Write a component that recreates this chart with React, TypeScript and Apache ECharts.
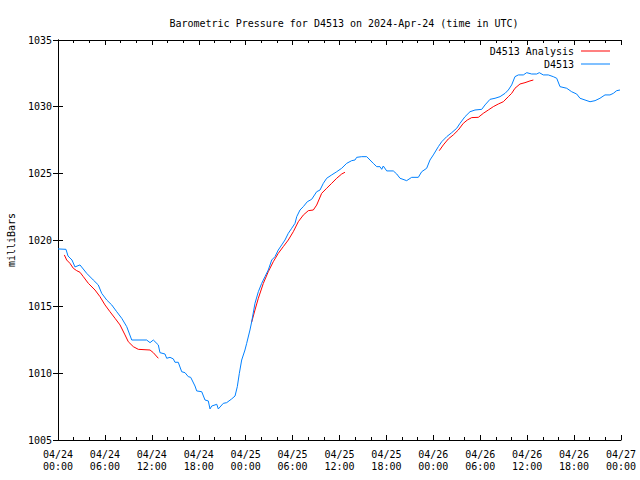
import React, { useEffect, useRef } from "react";
import * as echarts from "echarts";

const chartTitle = "Barometric Pressure for D4513 on 2024-Apr-24 (time in UTC)";
const yAxisTitle = "milliBars";
const seriesNames = ["D4513 Analysis", "D4513"];

// hours since 2024-04-24 00:00 UTC
const obsHours = [
  0, 1.02, 1.28, 1.79, 2.17, 2.81, 3.67, 4.51, 5.15, 5.59, 6.23, 6.87, 7.51, 8.15, 8.79, 9.43,
  11.34, 11.77, 12.19, 12.83, 13.04, 13.68, 13.9, 14.32, 14.75, 14.96, 15.38, 15.82, 16.24,
  16.66, 16.97, 17.52, 17.74, 18.38, 18.8, 19.22, 19.44, 19.66, 20.08, 20.3, 20.5, 21.14, 21.57,
  22.21, 22.64, 22.93, 23.19, 23.49, 23.91, 24.13, 24.55, 24.77, 25.19, 25.62, 26.05, 26.47,
  26.89, 27.33, 27.75, 28.17, 28.61, 29.03, 29.45, 29.89, 30.31, 30.53, 30.95, 31.37, 31.88,
  32.44, 33.08, 33.51, 33.93, 34.36, 35.0, 35.64, 36.28, 36.92, 37.56, 37.98, 38.2, 38.84,
  39.48, 39.9, 40.32, 40.76, 41.18, 41.4, 41.6, 42.04, 42.88, 43.32, 43.74, 44.59, 45.23, 46.08,
  46.51, 47.15, 47.57, 48.0, 48.64, 49.07, 49.71, 50.35, 50.99, 51.41, 52.05, 52.69, 53.33,
  54.19, 54.61, 55.25, 55.89, 56.53, 57.17, 57.59, 58.02, 58.44, 58.87, 59.51, 59.94, 60.58,
  61.22, 61.55, 62.06, 62.7, 63.34, 63.78, 64.2, 65.06, 65.69, 66.33, 66.76, 67.4, 68.04, 68.68,
  69.31, 69.95, 70.59, 71.02, 71.45, 71.87,
];
const obsPressure = [
  1019.33, 1019.3, 1018.8, 1018.5, 1017.98, 1018.13, 1017.5, 1017.0, 1016.63, 1016.0, 1015.5,
  1015.13, 1014.62, 1014.13, 1013.5, 1012.5, 1012.5, 1012.3, 1012.5, 1012.13, 1011.55, 1011.45,
  1011.13, 1011.2, 1011.08, 1010.83, 1010.83, 1010.12, 1010.05, 1009.75, 1009.7, 1009.05,
  1008.68, 1008.62, 1008.0, 1007.93, 1007.33, 1007.55, 1007.63, 1007.68, 1007.33, 1007.75,
  1007.8, 1008.08, 1008.3, 1009.0, 1010.0, 1011.0, 1011.75, 1012.25, 1013.25, 1013.87, 1015.25,
  1016.12, 1016.75, 1017.25, 1017.75, 1018.5, 1018.75, 1019.25, 1019.63, 1020.0, 1020.5,
  1020.88, 1021.25, 1021.75, 1022.25, 1022.5, 1022.87, 1023.05, 1023.62, 1023.75, 1024.25,
  1024.63, 1024.88, 1025.12, 1025.38, 1025.75, 1025.95, 1026.0, 1026.2, 1026.25, 1026.25,
  1026.0, 1025.75, 1025.5, 1025.5, 1025.3, 1025.55, 1025.18, 1025.18, 1024.95, 1024.63,
  1024.45, 1024.7, 1024.7, 1025.12, 1025.38, 1026.0, 1026.38, 1027.0, 1027.37, 1027.75,
  1028.05, 1028.38, 1028.75, 1029.25, 1029.62, 1029.75, 1029.8, 1030.13, 1030.55, 1030.63,
  1030.75, 1031.0, 1031.25, 1031.63, 1032.25, 1032.38, 1032.38, 1032.55, 1032.45, 1032.45,
  1032.55, 1032.38, 1032.38, 1032.25, 1032.13, 1031.5, 1031.38, 1031.12, 1030.95, 1030.63,
  1030.5, 1030.37, 1030.45, 1030.63, 1030.88, 1030.88, 1031.0, 1031.2, 1031.25,
];

// analysis: three 12-hour windows, null marks the gaps
const anaHours = [
  0.81, 1.11, 1.53, 1.96, 2.39, 2.81, 3.24, 3.88, 4.73, 5.37, 6.01, 6.65, 7.29, 7.93, 8.57, 8.99,
  9.63, 10.27, 11.77, 12.19, 12.83, 18.0,
  24.77, 25.19, 25.62, 26.26, 26.89, 27.53, 28.17, 28.81, 29.45, 30.09, 30.73, 31.37, 32.01,
  32.65, 33.08, 33.72, 34.36, 35.0, 35.64, 36.28, 36.7, 42.0,
  48.76, 49.28, 49.92, 50.55, 51.19, 51.83, 52.35, 52.91, 53.75, 54.39, 55.03, 55.67, 56.31,
  56.95, 57.59, 58.02, 58.44, 59.08, 59.72, 60.36, 60.79,
];
const anaPressure: (number | null)[] = [
  1018.88, 1018.5, 1018.25, 1017.88, 1017.7, 1017.58, 1017.25, 1016.75, 1016.25, 1015.75,
  1015.13, 1014.62, 1014.13, 1013.63, 1012.88, 1012.37, 1012.0, 1011.8, 1011.75, 1011.55,
  1011.13, null,
  1013.85, 1014.75, 1015.63, 1016.75, 1017.62, 1018.37, 1019.0, 1019.5, 1020.0, 1020.62,
  1021.37, 1021.87, 1022.2, 1022.25, 1022.62, 1023.5, 1023.88, 1024.25, 1024.63, 1024.95,
  1025.08, null,
  1026.7, 1027.13, 1027.58, 1027.88, 1028.25, 1028.75, 1029.0, 1029.18, 1029.2, 1029.5,
  1029.75, 1030.0, 1030.2, 1030.37, 1030.75, 1031.0, 1031.38, 1031.7, 1031.8, 1031.93, 1032.0,
];

const xMin = 0;
const xMax = 72;
const xStep = 6;
const yMin = 1005;
const yMax = 1035;
const yStep = 5;

const FONT = "DejaVu Sans Mono";

function fmtX(v: number): string {
  const day = 24 + Math.floor(v / 24);
  const hh = Math.round(v % 24);
  return `04/${day}\n${String(hh).padStart(2, "0")}:00`;
}

export default function App() {
  const ref = useRef<HTMLDivElement>(null);
  useEffect(() => {
    if (!ref.current) return;
    const chart = echarts.init(ref.current, undefined, { renderer: "svg" });
    const axisLine = { show: true, lineStyle: { color: "#000", width: 1 } };
    const tick = { show: true, inside: true, length: 5, lineStyle: { color: "#000" } };
    const minor = { show: true, splitNumber: 3, length: 3, lineStyle: { color: "#000" } };
    const labelStyle = { color: "#000", fontFamily: FONT, fontSize: 10 };
    const legendBase = {
      right: 25,
      align: "right",
      icon: "rect",
      itemWidth: 29,
      itemHeight: 1,
      itemGap: 4,
      textStyle: { ...labelStyle, padding: [0, 2, 0, 0] },
    };
    chart.setOption({
      animation: false,
      backgroundColor: "#fff",
      title: {
        text: chartTitle,
        left: 339,
        textAlign: "center",
        top: 13,
        textStyle: { fontFamily: FONT, fontSize: 10, fontWeight: "normal", color: "#000" },
      },
      grid: { left: 58, right: 19, top: 40, bottom: 40, containLabel: false, outerBoundsMode: "none" },
      legend: [
        { ...legendBase, data: [seriesNames[0]], top: 41 },
        { ...legendBase, data: [seriesNames[1]], top: 54 },
      ],
      xAxis: [
        {
          type: "value",
          min: xMin,
          max: xMax,
          interval: xStep,
          axisLine,
          axisTick: tick,
          minorTick: minor,
          splitLine: { show: false },
          axisLabel: { ...labelStyle, formatter: fmtX, lineHeight: 12, margin: 8 },
        },
        {
          type: "value",
          position: "top",
          min: xMin,
          max: xMax,
          interval: xStep,
          axisLine,
          axisTick: tick,
          minorTick: minor,
          splitLine: { show: false },
          axisLabel: { show: false },
        },
      ],
      yAxis: [
        {
          type: "value",
          min: yMin,
          max: yMax,
          interval: yStep,
          name: yAxisTitle,
          nameLocation: "middle",
          nameGap: 42,
          nameTextStyle: { ...labelStyle },
          axisLine,
          axisTick: tick,
          splitLine: { show: false },
          axisLabel: { ...labelStyle, margin: 6, formatter: (v: number) => String(v) },
        },
        {
          type: "value",
          position: "right",
          min: yMin,
          max: yMax,
          interval: yStep,
          axisLine,
          axisTick: tick,
          splitLine: { show: false },
          axisLabel: { show: false },
        },
      ],
      series: [
        {
          name: seriesNames[0],
          type: "line",
          showSymbol: false,
          symbol: "none",
          connectNulls: false,
          lineStyle: { color: "#ff0000", width: 1 },
          itemStyle: { color: "#ff0000" },
          data: anaHours.map((h, i) => [h, anaPressure[i] === null ? "-" : anaPressure[i]]),
        },
        {
          name: seriesNames[1],
          type: "line",
          showSymbol: false,
          symbol: "none",
          lineStyle: { color: "#0080ff", width: 1 },
          itemStyle: { color: "#0080ff" },
          data: obsHours.map((h, i) => [h, obsPressure[i]]),
        },
      ],
    });
    return () => chart.dispose();
  }, []);
  return (
    <div
      ref={ref}
      style={{ position: "fixed", left: 0, top: 0, width: 640, height: 480, background: "#fff" }}
    />
  );
}
